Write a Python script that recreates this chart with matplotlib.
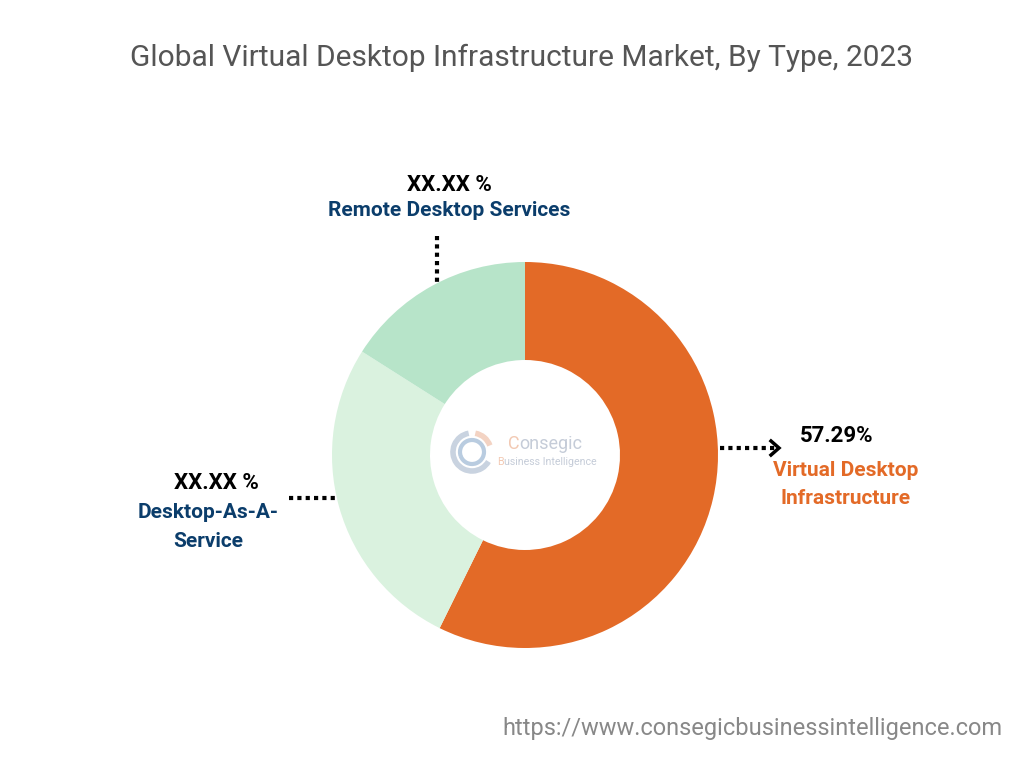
import matplotlib
matplotlib.use("Agg")
import matplotlib.pyplot as plt
from matplotlib.patches import Arc

categories = ["Virtual Desktop Infrastructure", "Desktop-As-A-Service", "Remote Desktop Services"]
values = [57.29, 26.71, 16.00]
value_labels = ["57.29%", "XX.XX %", "XX.XX %"]
colors = ["#E36A27", "#DAF2DF", "#B7E4C9"]

plt.rcParams['font.family'] = ['Roboto', 'DejaVu Sans']

fig = plt.figure(figsize=(10.24, 7.68), dpi=100)
ax = fig.add_axes([0, 0, 1, 1])

def Y(py):
    return 768 - py

cx, cy, R = 525, Y(455), 193
ax.pie(values, colors=colors, startangle=90, counterclock=False,
       center=(cx, cy), radius=R, wedgeprops=dict(width=R - 95, linewidth=0),
       frame=True)
ax.set_xlim(0, 1024)
ax.set_ylim(0, 768)
ax.set_aspect('equal')
ax.axis('off')

# Title
ax.text(522, Y(58), "Global Virtual Desktop Infrastructure Market, By Type, 2023",
        ha='center', va='center', fontsize=21.5, color='#555555')

# Right label (VDI)
ax.plot([720, 775], [Y(448), Y(448)], color='black', lw=3, ls=(0, (1, 1)))
ax.plot([771, 779, 771], [Y(441), Y(448), Y(455)], color='black', lw=2.5,
        solid_joinstyle='miter')
ax.text(837, Y(436), value_labels[0], ha='center', va='center',
        fontsize=16, fontweight='bold', color='black')
ax.text(846, Y(485), "Virtual Desktop\nInfrastructure", ha='center', va='center',
        fontsize=15, fontweight='bold', color='#E36A27', linespacing=1.6)

# Left label (DaaS)
ax.plot([289, 338], [Y(498), Y(498)], color='black', lw=3, ls=(0, (1, 1)))
ax.text(216, Y(483), value_labels[1], ha='center', va='center',
        fontsize=16, fontweight='bold', color='black')
ax.text(208, Y(527), "Desktop-As-A-\nService", ha='center', va='center',
        fontsize=15, fontweight='bold', color='#0B3D6B', linespacing=1.65)

# Top label (RDS)
ax.plot([437, 437], [Y(236), Y(282)], color='black', lw=3, ls=(0, (1, 1)))
ax.text(449, Y(185), value_labels[2], ha='center', va='center',
        fontsize=16, fontweight='bold', color='black')
ax.text(449, Y(211), "Remote Desktop Services", ha='center', va='center',
        fontsize=15, fontweight='bold', color='#0B3D6B')

# Faint logo
ax.add_patch(Arc((472, Y(452)), 38, 38, theta1=100, theta2=330, color='#C9D3E0', lw=4))
ax.add_patch(Arc((472, Y(452)), 24, 24, theta1=200, theta2=560, color='#B9CCE0', lw=3))
ax.add_patch(Arc((472, Y(452)), 38, 38, theta1=20, theta2=80, color='#F3D3C3', lw=4))
tC = ax.text(508, Y(444), "C", ha='left', va='center', fontsize=13, color='#F2C9B3')
ax.annotate("onsegic", xy=(1, 0.5), xycoords=tC, ha='left', va='center',
            fontsize=13, color='#C5CCD8')
tB = ax.text(497, Y(462), "B", ha='left', va='center', fontsize=7.7, color='#F2C9B3')
ax.annotate("usiness Intelligence", xy=(1, 0.5), xycoords=tB, ha='left', va='center',
            fontsize=7.7, color='#C5CCD8')

# URL
ax.text(1002, Y(729), "https://www.consegicbusinessintelligence.com", ha='right',
        va='center', fontsize=17, color='#888888')

fig.savefig("out.png", dpi=100, facecolor='white')
